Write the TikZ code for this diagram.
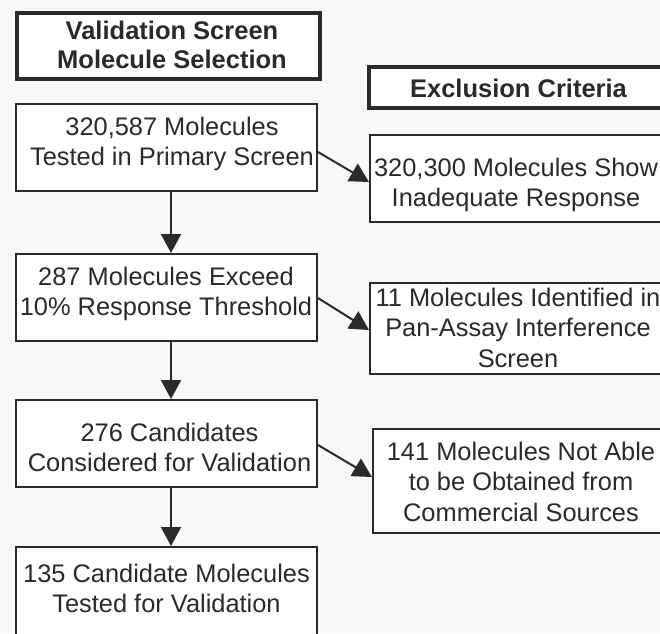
\documentclass[tikz,border=0pt]{standalone}
\usepackage{fontspec}
\setmainfont{Liberation Sans}
\usetikzlibrary{arrows.meta,calc}
\definecolor{ink}{HTML}{2A2A2A}
\definecolor{bg}{HTML}{F8F8F8}
\tikzset{
  box/.style={draw=ink, line width=2pt, fill=white, inner sep=0pt, outer sep=1pt},
  headbox/.style={draw=ink, line width=4pt, fill=white, inner sep=0pt, outer sep=2pt},
  txt/.style={anchor=north, inner sep=0pt, align=center, text=ink,
    font=\fontsize{25.4}{30.5}\selectfont},
  headtxt/.style={anchor=north, inner sep=0pt, align=center, text=ink,
    font=\fontsize{25.5}{29}\selectfont\bfseries},
  arr/.style={draw=ink, line width=2pt, -{Triangle[length=19pt,width=20pt]}}
}
\begin{document}
\begin{tikzpicture}[x=1pt,y=-1pt]
\useasboundingbox (0,0) rectangle (660,633);
\fill[bg] (0,0) rectangle (660,633);
\clip (0,0) rectangle (660,633);

% header boxes
\node[headbox, minimum width=303pt, minimum height=66pt] (h1) at (168.5,46) {};
\node[headtxt] (h1t) at (172,20.7) {Validation Screen\\Molecule Selection};
\node[headbox, minimum width=299pt, minimum height=41pt] (h2) at (518.5,87.5) {};
\node[headtxt] (h2t) at (518.5,78.6) {Exclusion Criteria};

% left column
\node[box, minimum width=301pt, minimum height=87pt] (b1) at (166.5,147.5) {};
\node[txt] (b1t) at (172,116.6) {320,587 Molecules\\Tested in Primary Screen};
\node[box, minimum width=301pt, minimum height=87pt] (b2) at (166.5,297.5) {};
\node[txt] (b2t) at (166,266.6) {287 Molecules Exceed\\10\% Response Threshold};
\node[box, minimum width=301pt, minimum height=87pt] (b3) at (166.5,443.5) {};
\node[txt] (b3t) at (169.5,422.6) {276 Candidates\\Considered for Validation};
\node[box, minimum width=301pt, minimum height=93pt] (b4) at (166.5,593.5) {};
\node[txt] (b4t) at (166.5,563.6) {135 Candidate Molecules\\Tested for Validation};

% right column
\node[box, minimum width=297pt, minimum height=87pt] (r1) at (518.5,178.5) {};
\node[txt] (r1t) at (516,157.6) {320,300 Molecules Show\\Inadequate Response};
\node[box, minimum width=297pt, minimum height=91pt] (r2) at (518.5,328.5) {};
\node[txt] (r2t) at (518,287.6) {11 Molecules Identified in\\Pan-Assay Interference\\Screen};
\node[box, minimum width=294pt, minimum height=104pt] (r3) at (520,481) {};
\node[txt] (r3t) at (521,441.6) {141 Molecules Not Able\\to be Obtained from\\Commercial Sources};

% vertical arrows
\draw[arr] ($(b1.south)+(4.5,0)$) -- ($(b2.north)+(4.5,0)$);
\draw[arr] ($(b2.south)+(4.5,0)$) -- ($(b3.north)+(4.5,0)$);
\draw[arr] ($(b3.south)+(4.5,0)$) -- ($(b4.north)+(4.5,0)$);

% diagonal arrows
\draw[arr] ($(b1.east)+(0,4.5)$) -- ($(r1.west)+(0,3.5)$);
\draw[arr] ($(b2.east)+(0,0.5)$) -- ($(r2.west)+(0,1.5)$);
\draw[arr] ($(b3.east)+(0,1.5)$) -- ($(r3.west)+(0,-4)$);
\end{tikzpicture}
\end{document}
